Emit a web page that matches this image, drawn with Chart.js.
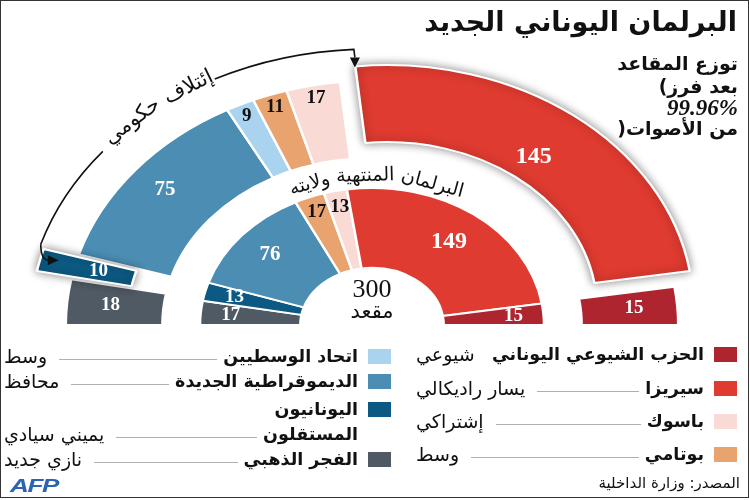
<!DOCTYPE html>
<html lang="ar">
<head>
<meta charset="utf-8">
<title>البرلمان اليوناني الجديد</title>
<script src="https://cdn.jsdelivr.net/npm/chart.js@4.4.1/dist/chart.umd.min.js"></script>
<style>
  html, body { margin: 0; padding: 0; background: #fff; }
  #page { position: relative; width: 750px; height: 500px; overflow: hidden; font-family: "DejaVu Sans", sans-serif; color: #111; }
  #seats { position: absolute; left: 0; top: 0; }
  #frame { position: absolute; left: 0; top: 0; width: 747px; height: 496px; border: 1.5px solid #333; pointer-events: none; }
  .txt { position: absolute; direction: rtl; white-space: nowrap; }
  .ltr { direction: ltr; }
  #title { right: 13px; top: 6px; font-size: 27px; font-weight: bold; }
  .sub { right: 12px; font-size: 19px; font-weight: bold; }
  .pct { font-family: "Liberation Serif", serif; font-style: italic; font-size: 23px; }
  .row { position: absolute; display: flex; direction: rtl; align-items: flex-end; line-height: 25px; font-size: 19px; }
  .sw { width: 23px; height: 15px; align-self: flex-start; margin-top: 5px; margin-left: 10px; flex: none; }
  .nm { font-weight: bold; font-size: 17.5px; white-space: pre-line; }
  .ld { flex: 1; border-bottom: 1.5px solid #b0b0b0; margin: 0 6px 9px 12px; }
  .ds { white-space: nowrap; }
  #src { right: 10px; top: 474px; font-size: 15px; }
  #afp { position: absolute; left: 10px; top: 476px; font-family: "Liberation Sans", sans-serif; font-weight: bold; font-style: italic; font-size: 18px; letter-spacing: -1px; color: #2a64b2; transform: scale(1.45, 1); transform-origin: left top; }
</style>
</head>
<body>
<div id="page">
  <canvas id="seats" width="750" height="500"></canvas>
  <div id="title" class="txt">البرلمان اليوناني الجديد</div>
  <div class="txt sub" style="top:52px">توزع المقاعد</div>
  <div class="txt sub ltr" style="top:75px">(بعد فرز</div>
  <div class="txt sub pct" style="top:95px">99.96%</div>
  <div class="txt sub ltr" style="top:117px">)من الأصوات</div>
  <div id="legend"></div>
  <div id="src" class="txt">المصدر: وزارة الداخلية</div>
  <div id="afp">AFP</div>
  <div id="frame"></div>
</div>
<script>
// parties, left end of the half circle to the right end
const parties = ["الفجر الذهبي", "اليونانيون المستقلون", "الديموقراطية الجديدة", "اتحاد الوسطيين", "بوتامي", "باسوك", "سيريزا", "الحزب الشيوعي اليوناني"];
const legendNames = ["الفجر الذهبي", "اليونانيون\nالمستقلون", "الديموقراطية الجديدة", "اتحاد الوسطيين", "بوتامي", "باسوك", "سيريزا", "الحزب الشيوعي اليوناني"];
const leanings = ["نازي جديد", "يميني سيادي", "محافظ", "وسط", "وسط", "إشتراكي", "يسار راديكالي", "شيوعي"];
const newSeats = [18, 10, 75, 9, 11, 17, 145, 15];
const oldSeats = [17, 13, 76, 0, 17, 13, 149, 15];
const totalSeats = "300";
const seatsWord = "مقعد";
const oldLabel = "البرلمان المنتهية ولايته";
const coalitionLabel = "إئتلاف حكومي";

const colors = ["#4f5a64", "#0c5a83", "#4b8db3", "#a9d3ee", "#e9a36f", "#f9dad4", "#e03b30", "#ae2530"];
const exploded = { "سيريزا": 80, "اليونانيون المستقلون": 60 };
const S = 1.255; // horizontal stretch, the rings are drawn as ellipses

// legend, built from the arrays
const legendRight = [7, 6, 5, 4];
const legendLeft = [3, 2, 1, 0];
const noLeader = ["الحزب الشيوعي اليوناني"];
function legendColumn(order, left, width, tops) {
  order.forEach((p, k) => {
    const row = document.createElement("div");
    row.className = "row";
    row.style.left = left + "px";
    row.style.width = width + "px";
    row.style.top = tops[k] + "px";
    row.innerHTML = '<span class="sw" style="background:' + colors[p] + '"></span>' +
      '<span class="nm">' + legendNames[p] + '</span>' +
      '<span class="ld"' + (noLeader.includes(parties[p]) ? ' style="border:0;margin:0"' : '') + '></span>' +
      '<span class="ds">' + leanings[p] + '</span>';
    document.getElementById("legend").appendChild(row);
  });
}
legendColumn(legendRight, 416, 321, [342, 376, 409, 442]);
legendColumn(legendLeft, 4, 387, [344, 369, 397, 447]);

function isLight(hex) {
  const n = parseInt(hex.slice(1), 16);
  return 0.299 * (n >> 16) + 0.587 * ((n >> 8) & 255) + 0.114 * (n & 255) > 160;
}

const ellipsePlugin = {
  id: "ellipse",
  beforeDatasetsDraw(chart) {
    const c = chart.getDatasetMeta(0).data[0];
    const ctx = chart.ctx;
    ctx.save();
    ctx.translate(c.x, c.y);
    ctx.scale(S, 1);
    ctx.translate(-c.x, -c.y);
  },
  afterDatasetDraw(chart, args) {
    if (args.index !== 0) return;
    const ctx = chart.ctx;
    chart.getDatasetMeta(0).data.forEach(arc => {
      if (!arc.options.offset) return;
      ctx.save();
      ctx.shadowColor = "rgba(0,0,0,0.45)";
      ctx.shadowBlur = 10;
      arc.draw(ctx);
      ctx.restore();
    });
  },
  afterDatasetsDraw(chart) {
    chart.ctx.restore();
  }
};

function wordsOnArc(ctx, cx, cy, r, startDeg, text, gap) {
  let th = startDeg * Math.PI / 180;
  const step = 0.002;
  const advance = len => {
    let s = 0;
    while (s < len) {
      s += r * Math.hypot(S * Math.sin(th), Math.cos(th)) * step;
      th += step;
    }
  };
  text.split(" ").forEach((w, k) => {
    const wd = ctx.measureText(w).width;
    if (k) advance(gap);
    advance(wd / 2);
    const px = cx + S * r * Math.cos(th), py = cy - r * Math.sin(th);
    ctx.save();
    ctx.translate(px, py);
    ctx.rotate(Math.atan2(Math.cos(th), S * Math.sin(th)));
    ctx.fillText(w, 0, 0);
    ctx.restore();
    advance(wd / 2);
  });
}

const labelPlugin = {
  id: "labels",
  afterDraw(chart) {
    const ctx = chart.ctx;
    const c = chart.getDatasetMeta(0).data[0];
    const cx = c.x, cy = c.y;
    ctx.save();
    ctx.textAlign = "center";
    ctx.textBaseline = "middle";

    [0, 2].forEach(di => {
      const vals = chart.data.datasets[di].data;
      chart.getDatasetMeta(di).data.forEach((arc, i) => {
        if (!vals[i]) return;
        const mid = (arc.startAngle + arc.endAngle) / 2;
        const deg = -mid * 180 / Math.PI;
        let f = di === 0 ? 0.6 : 0.63;
        if (vals[i] >= 100) f = di === 0 ? 0.32 : 0.58;
        else if (deg < 20 || deg > 160) f = di === 0 ? 0.55 : 0.7;
        else if (vals[i] < 20) f = di === 0 ? 0.84 : 0.8;
        const r = arc.innerRadius + f * (arc.outerRadius - arc.innerRadius) + (arc.options.offset || 0) / 4;
        const size = vals[i] >= 100 ? 24 : vals[i] >= 50 ? 21 : 19;
        ctx.font = "bold " + size + "px 'Liberation Serif'";
        ctx.fillStyle = isLight(colors[i]) ? "#111" : "#fff";
        ctx.fillText(String(vals[i]), cx + S * r * Math.cos(mid), cy + r * Math.sin(mid));
      });
    });

    // centre
    ctx.fillStyle = "#111";
    ctx.font = "26px 'Liberation Serif'";
    ctx.fillText(totalSeats, cx, cy - 35);
    ctx.font = "21px 'DejaVu Sans'";
    ctx.fillText(seatsWord, cx, cy - 12);

    // outgoing parliament label in the gap between the rings
    ctx.font = "19px 'DejaVu Sans'";
    wordsOnArc(ctx, cx, cy, 149, 61, oldLabel, 6);

    // coalition arrow
    const rA = 276;
    const pt = d => [cx + S * rA * Math.cos(d * Math.PI / 180), cy - rA * Math.sin(d * Math.PI / 180)];
    ctx.strokeStyle = "#111";
    ctx.fillStyle = "#111";
    ctx.lineWidth = 1.6;
    const P = pt(163);
    ctx.beginPath();
    ctx.ellipse(cx, cy, S * rA, rA, 0, -163 * Math.PI / 180, -141 * Math.PI / 180);
    ctx.stroke();
    ctx.beginPath();
    ctx.moveTo(P[0], P[1]);
    ctx.quadraticCurveTo(P[0], P[1] + 16, P[0] + 8, P[1] + 16);
    ctx.stroke();
    ctx.beginPath();
    ctx.moveTo(P[0] + 18, P[1] + 16);
    ctx.lineTo(P[0] + 7, P[1] + 11);
    ctx.lineTo(P[0] + 7, P[1] + 21);
    ctx.fill();

    const Q = pt(93);
    ctx.beginPath();
    ctx.ellipse(cx, cy, S * rA, rA, 0, -117 * Math.PI / 180, -93 * Math.PI / 180);
    ctx.lineTo(Q[0] + 1, Q[1] + 8);
    ctx.stroke();
    ctx.beginPath();
    ctx.moveTo(Q[0] + 1, Q[1] + 18);
    ctx.lineTo(Q[0] - 4, Q[1] + 8);
    ctx.lineTo(Q[0] + 6, Q[1] + 8);
    ctx.fill();

    ctx.font = "21px 'DejaVu Sans'";
    wordsOnArc(ctx, cx, cy, rA + 3, 117, coalitionLabel, 7);
    ctx.restore();
  }
};

const ctx = document.getElementById("seats").getContext("2d");
const seatChart = new Chart(ctx, {
  type: "doughnut",
  data: {
    labels: parties,
    datasets: [{
      label: "البرلمان الجديد",
      data: newSeats,
      backgroundColor: colors,
      borderColor: "#fff",
      borderWidth: 2,
      offset: c => exploded[parties[c.dataIndex]] || 0,
      weight: 77
    }, {
      label: "",
      data: [1],
      backgroundColor: "rgba(0,0,0,0)",
      borderWidth: 0,
      weight: 30
    }, {
      label: oldLabel,
      data: oldSeats,
      backgroundColor: colors,
      borderColor: "#fff",
      borderWidth: 2,
      weight: 80
    }]
  },
  options: {
    responsive: false,
    animation: false,
    events: [],
    rotation: -90,
    circumference: 180,
    radius: 244,
    cutout: "23.4%",
    layout: { padding: { left: 0, right: 6, top: 0, bottom: 94 } },
    plugins: {
      legend: { display: false },
      tooltip: { enabled: false }
    }
  },
  plugins: [ellipsePlugin, labelPlugin]
});
</script>
</body>
</html>
